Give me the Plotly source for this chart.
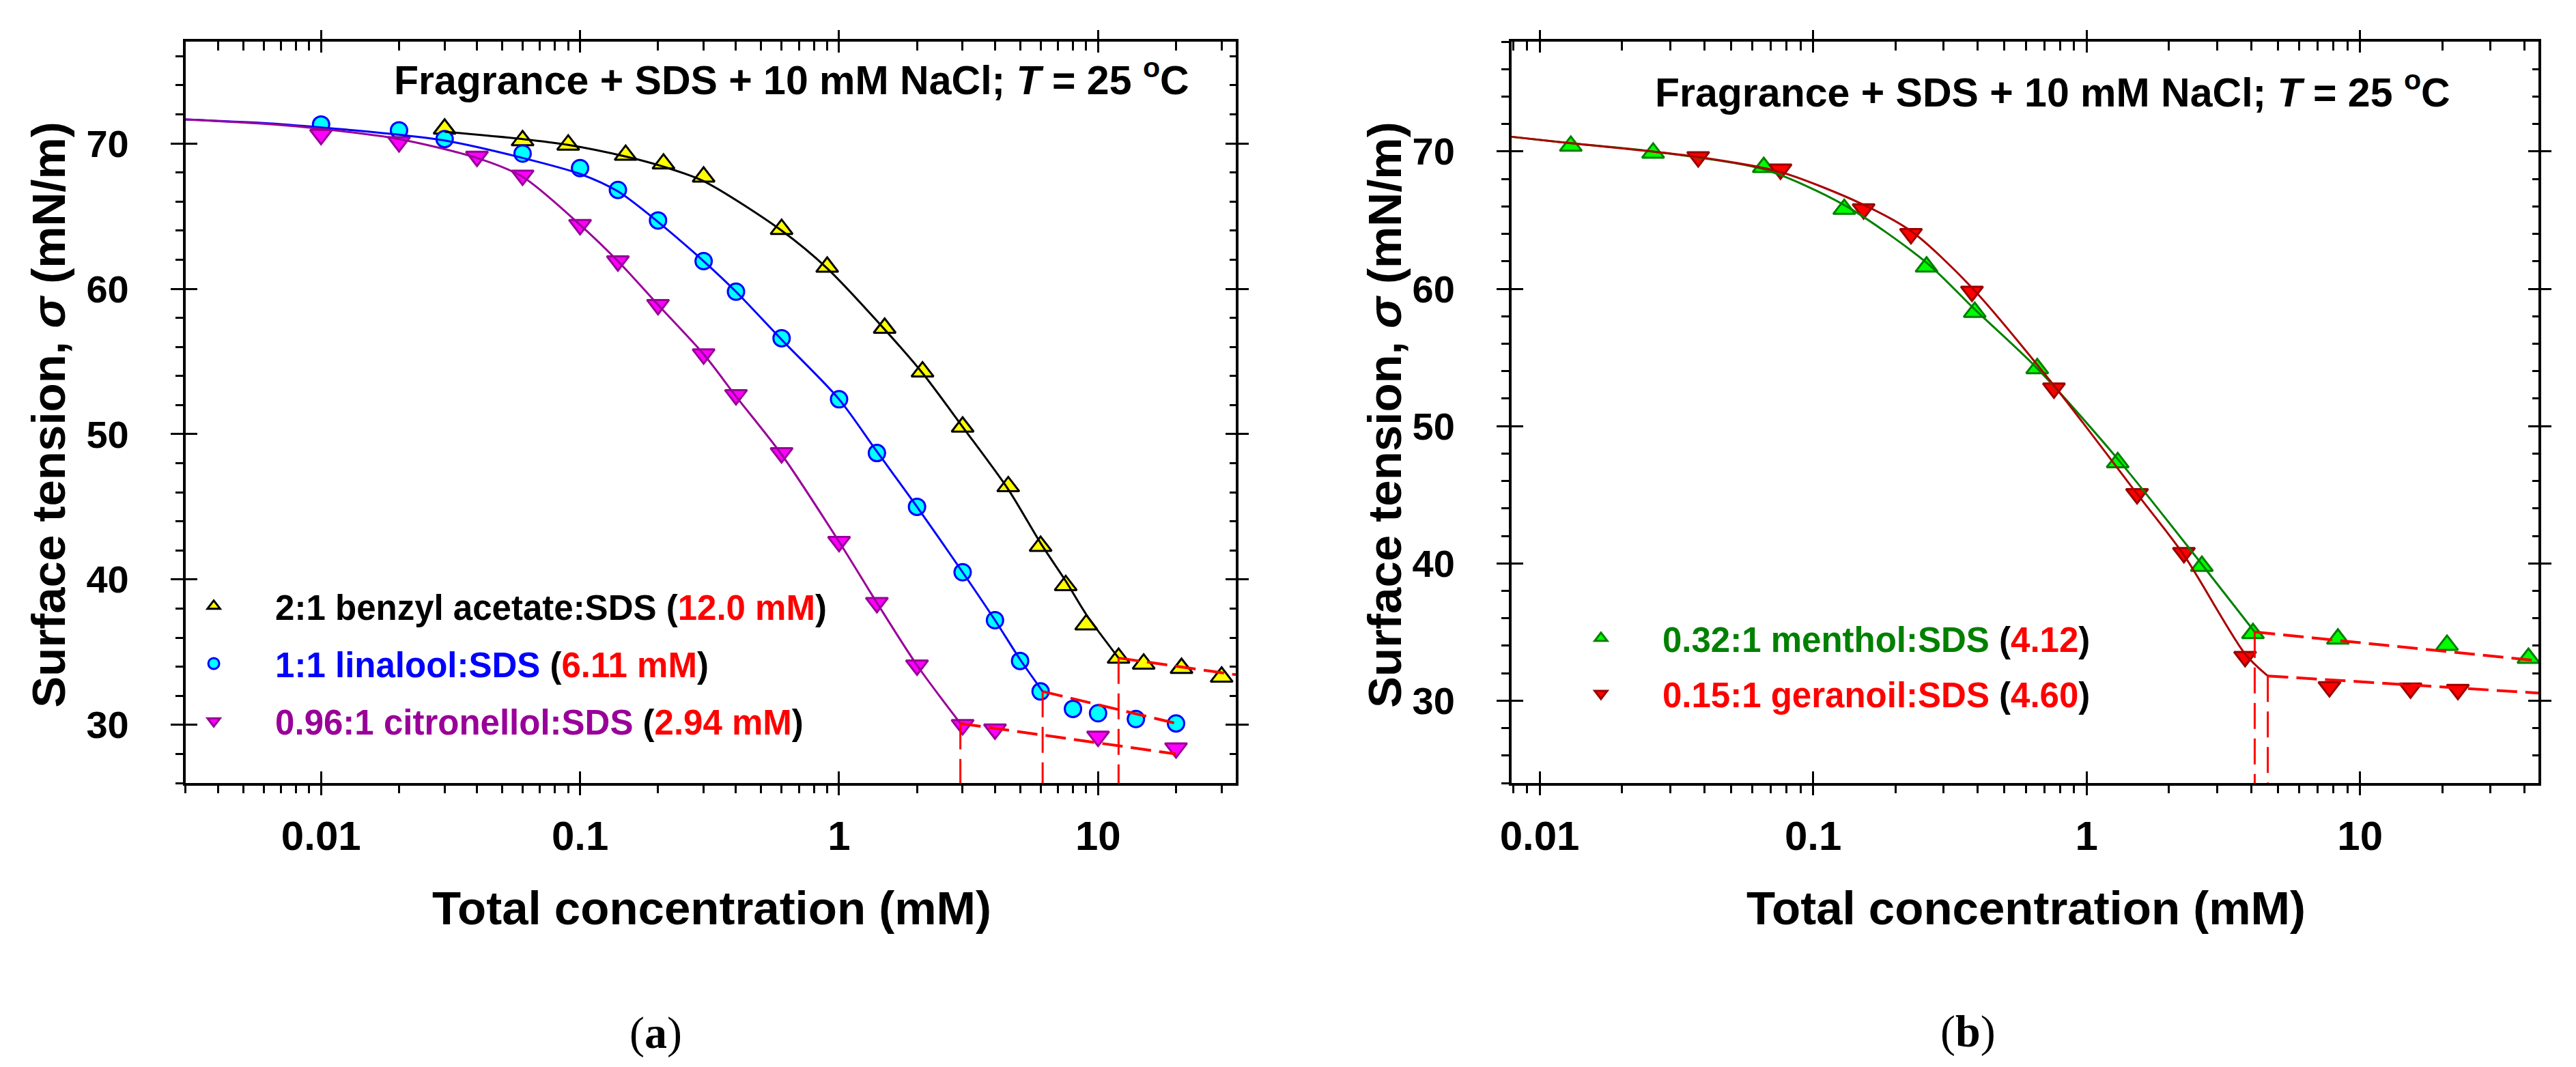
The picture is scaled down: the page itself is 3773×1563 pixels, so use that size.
import math
import plotly.graph_objects as go

# ---------------- Panel (a): measured data ----------------
conc_ba = [0.03, 0.06, 0.09, 0.15, 0.21, 0.3, 0.6, 0.9, 1.5, 2.1, 3.0, 4.5, 6.0, 7.5, 9.0, 12.0, 15.0, 21.0, 30.0]
sigma_ba = [71.0, 70.2, 69.9, 69.2, 68.6, 67.7, 64.1, 61.5, 57.3, 54.3, 50.5, 46.4, 42.3, 39.6, 36.9, 34.6, 34.2, 33.9, 33.3]

conc_lin = [0.01, 0.02, 0.03, 0.06, 0.1, 0.14, 0.2, 0.3, 0.4, 0.6, 1.0, 1.4, 2.0, 3.0, 4.0, 5.0, 6.0, 8.0, 10.0, 14.0, 20.0]
sigma_lin = [71.3, 70.9, 70.3, 69.3, 68.3, 66.8, 64.7, 61.9, 59.8, 56.6, 52.4, 48.7, 45.0, 40.5, 37.2, 34.4, 32.3, 31.1, 30.8, 30.4, 30.1]

conc_cit = [0.01, 0.02, 0.04, 0.06, 0.1, 0.14, 0.2, 0.3, 0.4, 0.6, 1.0, 1.4, 2.0, 3.0, 4.0, 10.0, 20.0]
sigma_cit = [70.6, 70.1, 69.1, 67.8, 64.4, 61.9, 58.9, 55.5, 52.7, 48.7, 42.6, 38.4, 34.1, 30.0, 29.7, 29.2, 28.4]

# fitted curves
fit_ba_x = [0.03, 0.06, 0.09, 0.15, 0.21, 0.3, 0.6, 0.9, 1.5, 2.1, 3.0, 4.5, 6.0, 7.5, 9.0, 12.0]
fit_ba_y = [70.8, 70.3, 69.9, 69.1, 68.4, 67.4, 64.0, 61.4, 57.2, 54.2, 50.5, 46.2, 42.5, 39.9, 37.6, 34.6]
fit_lin_x = [0.003, 0.006, 0.01, 0.02, 0.03, 0.06, 0.1, 0.14, 0.2, 0.3, 0.4, 0.6, 1.0, 1.4, 2.0, 3.0, 4.0, 5.0, 6.11]
fit_lin_y = [71.65, 71.4, 71.1, 70.6, 70.2, 69.0, 67.9, 66.7, 64.6, 61.9, 59.8, 56.5, 52.4, 48.8, 45.0, 40.5, 37.2, 34.5, 32.3]
fit_cit_x = [0.003, 0.006, 0.01, 0.02, 0.04, 0.06, 0.1, 0.14, 0.2, 0.3, 0.4, 0.6, 1.0, 1.4, 2.0, 2.94]
fit_cit_y = [71.65, 71.35, 71.0, 70.3, 69.0, 67.7, 64.4, 61.9, 58.9, 55.5, 52.6, 48.6, 42.6, 38.4, 34.1, 30.1]

# CMC and post-CMC lines
cmc_a = [12.0, 6.11, 2.94]
sigma_cmc_a = [34.6, 32.3, 30.1]
tail_end_conc_a = [34.0, 20.0, 20.0]
tail_end_sigma_a = [33.45, 30.1, 28.0]

# ---------------- Panel (b): measured data ----------------
conc_men = [0.013, 0.026, 0.066, 0.13, 0.26, 0.39, 0.66, 1.3, 2.64, 4.06, 8.3, 20.8, 41.3]
sigma_men = [70.4, 69.9, 68.85, 65.8, 61.6, 58.3, 54.2, 47.35, 39.8, 34.9, 34.5, 34.05, 33.1]

conc_ger = [0.038, 0.076, 0.153, 0.228, 0.381, 0.76, 1.53, 2.27, 3.80, 7.73, 15.3, 22.8]
sigma_ger = [69.6, 68.7, 65.8, 64.0, 59.8, 52.75, 45.06, 40.77, 33.2, 31.0, 30.9, 30.8]

fit_men_x = [0.0079, 0.013, 0.026, 0.066, 0.13, 0.26, 0.39, 0.66, 1.3, 2.6, 4.12]
fit_men_y = [71.07, 70.6, 70.0, 68.7, 66.1, 61.9, 58.5, 54.2, 47.6, 40.1, 35.0]
fit_ger_x = [0.0079, 0.013, 0.038, 0.076, 0.15, 0.23, 0.38, 0.76, 1.53, 2.27, 3.8, 4.6]
fit_ger_y = [71.07, 70.6, 69.6, 68.5, 66.2, 64.15, 60.1, 52.95, 45.06, 40.6, 33.4, 31.8]

cmc_b = [4.12, 4.60]
sigma_cmc_b = [35.0, 31.8]
tail_end_conc_b = [45.0, 45.0]
tail_end_sigma_b = [32.9, 30.55]

# ---------------- labels / ticks ----------------
x_major = [0.01, 0.1, 1, 10]
x_ticktext = ["0.01", "0.1", "1", "10"]
y_major = [30, 40, 50, 60, 70]
y_ticktext = ["30", "40", "50", "60", "70"]

name_ba = "2:1 benzyl acetate:SDS (<span style='color:#FF0000'>12.0 mM</span>)"
name_lin = "<span style='color:#0000FF'>1:1 linalool:SDS</span> (<span style='color:#FF0000'>6.11 mM</span>)"
name_cit = "<span style='color:#990099'>0.96:1 citronellol:SDS</span> (<span style='color:#FF0000'>2.94 mM</span>)"
name_men = "<span style='color:#008000'>0.32:1 menthol:SDS</span> (<span style='color:#FF0000'>4.12</span>)"
name_ger = "<span style='color:#FF0000'>0.15:1 geranoil:SDS</span> (<span style='color:#FF0000'>4.60</span>)"

header = "Fragrance + SDS + 10 mM NaCl; <i>T</i> = 25 <sup>o</sup>C"
y_title = "Surface tension, <i>σ</i> (mN/m)"
x_title = "Total concentration (mM)"

# ---------------- geometry ----------------
W, H = 3773, 1563
SANS = "Liberation Sans, Arial, sans-serif"
SERIF = "Liberation Serif, Times New Roman, serif"

dom_a_x = [248 / W, 1793 / W]
dom_b_x = [2199 / W, 3710 / W]
dom_y = [1 - 1139 / H, 1 - 53 / H]

xr_a = [math.log10(0.003), math.log10(34.0)]
yr_a = [26, 77]
xr_b = [math.log10(0.0079), math.log10(45.0)]
yr_b = [24, 78]

layout = {}


def axis_key(a):
    return ('xaxis' if a[0] == 'x' else 'yaxis') + a[1:]


def build_x(main, over, dom, rng, anchor):
    minor_vals = [m * 10 ** k for k in range(-3, 2) for m in range(2, 10)
                  if rng[0] <= math.log10(m * 10 ** k) <= rng[1]]
    common = dict(type='log', range=rng, showgrid=False, zeroline=False,
                  tickmode='array', tickvals=x_major)
    # main axis: carries the labels (its own major ticks are invisible spacers)
    layout[axis_key(main)] = dict(common, domain=dom, anchor=anchor, side='bottom', showline=True,
                                  linewidth=4, linecolor='black', mirror=True, ticks='outside',
                                  ticklen=34, tickwidth=3, tickcolor='rgba(0,0,0,0)',
                                  ticktext=x_ticktext, tickangle=0,
                                  tickfont=dict(family=SANS, size=60, color='black', weight='bold'),
                                  ticklabelstandoff=-12,
                                  minor=dict(tickmode='array', tickvals=minor_vals, ticks='outside',
                                             ticklen=11, tickwidth=2.5, tickcolor='black', showgrid=False))
    b, c, d, e = over
    layout[axis_key(b)] = dict(common, overlaying=main, anchor=anchor, side='top', ticks='inside',
                               ticklen=16, tickwidth=3, tickcolor='black', showticklabels=False,
                               minor=dict(tickmode='array', tickvals=minor_vals, ticks='inside',
                                          ticklen=13, tickwidth=2.5, tickcolor='black', showgrid=False))
    layout[axis_key(c)] = dict(common, overlaying=main, anchor=anchor, side='bottom', ticks='inside',
                               ticklen=17, tickwidth=3, tickcolor='black', showticklabels=False)
    layout[axis_key(d)] = dict(common, overlaying=main, anchor=anchor, side='top', ticks='outside',
                               ticklen=16, tickwidth=3, tickcolor='black', showticklabels=False)
    layout[axis_key(e)] = dict(common, overlaying=main, anchor=anchor, side='bottom', ticks='outside',
                               ticklen=17, tickwidth=3, tickcolor='black', showticklabels=False)


def build_y(main, over, dom, rng, anchor):
    common = dict(type='linear', range=rng, showgrid=False, zeroline=False, tickcolor='black',
                  tickmode='array', tickvals=y_major)
    layout[axis_key(main)] = dict(common, domain=dom, anchor=anchor, side='left', showline=True,
                                  linewidth=4, linecolor='black', mirror=True, ticks='outside',
                                  ticklen=18, tickwidth=3, ticktext=y_ticktext, tickangle=0,
                                  tickfont=dict(family=SANS, size=56, color='black', weight='bold'),
                                  ticklabelstandoff=50,
                                  minor=dict(tickmode='linear', tick0=0, dtick=2, ticks='outside',
                                             ticklen=11, tickwidth=2.5, tickcolor='black', showgrid=False))
    b, c, d = over
    layout[axis_key(b)] = dict(common, overlaying=main, anchor=anchor, side='right', ticks='inside',
                               ticklen=15, tickwidth=3, showticklabels=False,
                               minor=dict(tickmode='linear', tick0=0, dtick=2, ticks='inside',
                                          ticklen=9, tickwidth=2.5, tickcolor='black', showgrid=False))
    layout[axis_key(c)] = dict(common, overlaying=main, anchor=anchor, side='left', ticks='inside',
                               ticklen=17, tickwidth=3, showticklabels=False)
    layout[axis_key(d)] = dict(common, overlaying=main, anchor=anchor, side='right', ticks='outside',
                               ticklen=18, tickwidth=3, showticklabels=False)


x_over_a = ['x3', 'x5', 'x7', 'x9']
x_over_b = ['x4', 'x6', 'x8', 'x10']
y_over_a = ['y3', 'y5', 'y7']
y_over_b = ['y4', 'y6', 'y8']

build_x('x', x_over_a, dom_a_x, xr_a, 'y')
build_y('y', y_over_a, dom_y, yr_a, 'x')
build_x('x2', x_over_b, dom_b_x, xr_b, 'y2')
build_y('y2', y_over_b, dom_y, yr_b, 'x2')

fig = go.Figure()

# empty traces so that the overlay (tick-only) axes are drawn
for xo in x_over_a:
    fig.add_trace(go.Scatter(x=[None], y=[None], xaxis=xo, yaxis='y', showlegend=False, hoverinfo='skip'))
for yo in y_over_a:
    fig.add_trace(go.Scatter(x=[None], y=[None], xaxis='x', yaxis=yo, showlegend=False, hoverinfo='skip'))
for xo in x_over_b:
    fig.add_trace(go.Scatter(x=[None], y=[None], xaxis=xo, yaxis='y2', showlegend=False, hoverinfo='skip'))
for yo in y_over_b:
    fig.add_trace(go.Scatter(x=[None], y=[None], xaxis='x2', yaxis=yo, showlegend=False, hoverinfo='skip'))


def markers(x, y, name, symbol, fill, edge, xa, ya, leg, grp):
    fig.add_trace(go.Scatter(x=x, y=y, mode='markers', name=name, xaxis=xa, yaxis=ya,
                             legend=leg, legendgroup=grp,
                             marker=dict(symbol=symbol, size=28 if 'triangle' in symbol else 24,
                                         color=fill, line=dict(color=edge, width=3))))


def fitline(x, y, color, xa, ya):
    fig.add_trace(go.Scatter(x=x, y=y, mode='lines', xaxis=xa, yaxis=ya, showlegend=False,
                             line=dict(color=color, width=3, shape='spline', smoothing=0.8),
                             hoverinfo='skip'))


# panel (a)
markers(conc_ba, sigma_ba, name_ba, 'triangle-up', '#FFFF00', '#000000', 'x', 'y', 'legend', 'ba')
markers(conc_lin, sigma_lin, name_lin, 'circle', '#00FFFF', '#0000FF', 'x', 'y', 'legend', 'lin')
markers(conc_cit, sigma_cit, name_cit, 'triangle-down', '#FF00FF', '#990099', 'x', 'y', 'legend', 'cit')
fitline(fit_ba_x, fit_ba_y, '#000000', 'x', 'y')
fitline(fit_lin_x, fit_lin_y, '#0000FF', 'x', 'y')
fitline(fit_cit_x, fit_cit_y, '#990099', 'x', 'y')

# panel (b)
markers(conc_men, sigma_men, name_men, 'triangle-up', '#00FF00', '#008000', 'x2', 'y2', 'legend2', 'men')
markers(conc_ger, sigma_ger, name_ger, 'triangle-down', '#FF0000', '#990000', 'x2', 'y2', 'legend2', 'ger')
fitline(fit_men_x, fit_men_y, '#008000', 'x2', 'y2')
fitline(fit_ger_x, fit_ger_y, '#AA0000', 'x2', 'y2')


def cmc_lines(cmc, s_cmc, x_end, s_end, y_min, xa, ya):
    for c, s, xe, se in zip(cmc, s_cmc, x_end, s_end):
        fig.add_trace(go.Scatter(x=[c, xe], y=[s, se], mode='lines', xaxis=xa, yaxis=ya,
                                 showlegend=False, hoverinfo='skip',
                                 line=dict(color='#FF0000', width=4, dash='30px,12px')))
        fig.add_trace(go.Scatter(x=[c, c], y=[s, y_min], mode='lines', xaxis=xa, yaxis=ya,
                                 showlegend=False, hoverinfo='skip',
                                 line=dict(color='#FF0000', width=3, dash='38px,14px')))


cmc_lines(cmc_a, sigma_cmc_a, tail_end_conc_a, tail_end_sigma_a, yr_a[0], 'x', 'y')
cmc_lines(cmc_b, sigma_cmc_b, tail_end_conc_b, tail_end_sigma_b, yr_b[0], 'x2', 'y2')

leg_font = dict(family=SANS, size=51, color='black', weight='bold')
layout['legend'] = dict(x=199 / W, y=1 - 840 / H, xanchor='left', yanchor='top', bgcolor='rgba(0,0,0,0)',
                        font=leg_font, itemwidth=170, tracegroupgap=15, traceorder='grouped')
layout['legend2'] = dict(x=2240 / W, y=1 - 887 / H, xanchor='left', yanchor='top', bgcolor='rgba(0,0,0,0)',
                         font=leg_font, itemwidth=170, tracegroupgap=12, traceorder='grouped')

ann = []
title_font = dict(family=SANS, size=59, color='black', weight='bold')
ann.append(dict(text=header, x=1727 / W, y=1 - 106 / H, xref='paper', yref='paper', xanchor='right',
                yanchor='middle', showarrow=False, font=title_font))
ann.append(dict(text=header, x=3582 / W, y=1 - 124 / H, xref='paper', yref='paper', xanchor='right',
                yanchor='middle', showarrow=False, font=title_font))
ytf = dict(family=SANS, size=69, color='black', weight='bold')
for xc in [46, 2012]:
    ann.append(dict(text=y_title, x=xc / W, y=1 - 599 / H, xref='paper', yref='paper', xanchor='center',
                    yanchor='middle', textangle=-90, showarrow=False, font=ytf))
xtf = dict(family=SANS, size=69, color='black', weight='bold')
for xc in [1022, 2956]:
    ann.append(dict(text=x_title, x=xc / W, y=1 - 1322 / H, xref='paper', yref='paper', xanchor='center',
                    yanchor='middle', showarrow=False, font=xtf))
plf = dict(family=SERIF, size=66, color='black')
ann.append(dict(text="(<b>a</b>)", x=940 / W, y=1 - 1505 / H, xref='paper', yref='paper',
                xanchor='center', yanchor='middle', showarrow=False, font=plf))
ann.append(dict(text="(<b>b</b>)", x=2870 / W, y=1 - 1503 / H, xref='paper', yref='paper',
                xanchor='center', yanchor='middle', showarrow=False, font=plf))

fig.update_layout(width=W, height=H, margin=dict(l=0, r=0, t=0, b=0),
                  paper_bgcolor='white', plot_bgcolor='white', annotations=ann, **layout)

fig.write_html("out.html")
